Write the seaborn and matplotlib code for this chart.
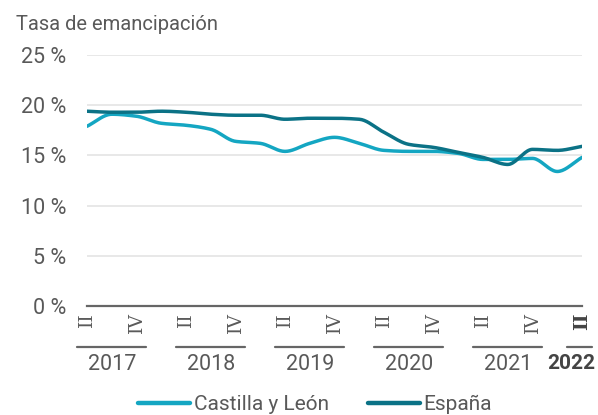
import numpy as np
import pandas as pd
import seaborn as sns
import matplotlib.pyplot as plt
from matplotlib.transforms import blended_transform_factory

# Datos trimestrales, 2017-II a 2022-II (tasa de emancipación, %)
trimestres = ['II', 'III', 'IV', 'I', 'II', 'III', 'IV', 'I', 'II', 'III', 'IV',
              'I', 'II', 'III', 'IV', 'I', 'II', 'III', 'IV', 'I', 'II']
anios = [2017, 2017, 2017, 2018, 2018, 2018, 2018, 2019, 2019, 2019, 2019,
         2020, 2020, 2020, 2020, 2021, 2021, 2021, 2021, 2022, 2022]
castilla_leon = [17.9, 19.1, 18.9, 18.2, 18.0, 17.6, 16.4, 16.2, 15.4, 16.2, 16.8,
                 16.2, 15.5, 15.4, 15.4, 15.2, 14.6, 14.6, 14.7, 13.4, 14.8]
espana = [19.4, 19.3, 19.3, 19.4, 19.3, 19.1, 19.0, 19.0, 18.6, 18.7, 18.7,
          18.6, 17.3, 16.1, 15.8, 15.3, 14.8, 14.1, 15.6, 15.5, 15.9]
series = ['Castilla y León', 'España']
colores = ['#14a6c2', '#0b7286']
y_ticks = [0, 5, 10, 15, 20, 25]

gris = '#595959'


# curva monotona (Fritsch-Carlson) solo para dibujar la linea suavizada
def monotona(x, y, n=20):
    x = np.asarray(x, float)
    y = np.asarray(y, float)
    h = np.diff(x)
    d = np.diff(y) / h
    m = np.zeros_like(y)
    m[0], m[-1] = d[0], d[-1]
    for k in range(1, len(y) - 1):
        if d[k - 1] * d[k] <= 0:
            m[k] = 0
        else:
            m[k] = 3 * (h[k - 1] + h[k]) / ((2 * h[k] + h[k - 1]) / d[k - 1] + (h[k] + 2 * h[k - 1]) / d[k])
    xs, ys = [], []
    for k in range(len(x) - 1):
        t = np.linspace(0, 1, n, endpoint=False)
        h00 = 2 * t**3 - 3 * t**2 + 1
        h10 = t**3 - 2 * t**2 + t
        h01 = -2 * t**3 + 3 * t**2
        h11 = t**3 - t**2
        xs.append(x[k] + t * h[k])
        ys.append(h00 * y[k] + h10 * h[k] * m[k] + h01 * y[k + 1] + h11 * h[k] * m[k + 1])
    xs.append([x[-1]])
    ys.append([y[-1]])
    return np.concatenate(xs), np.concatenate(ys)


idx = np.arange(len(trimestres))
partes = []
for nombre, valores in zip(series, [castilla_leon, espana]):
    xs, ys = monotona(idx, valores)
    partes.append(pd.DataFrame({'x': xs, 'valor': ys, 'serie': nombre}))
df = pd.concat(partes, ignore_index=True)

sns.set_style('white')
plt.rcParams['font.family'] = ['Roboto', 'DejaVu Sans']

fig = plt.figure(figsize=(5.98, 4.15), dpi=100)
ax = fig.add_axes([87 / 598, 1 - 306 / 415, (582 - 87) / 598, (306 - 55) / 415])

sns.lineplot(data=df, x='x', y='valor', hue='serie', hue_order=series,
             palette=colores, linewidth=2.5, ax=ax, legend=False, sort=False)

ax.set_xlim(0, len(trimestres) - 1)
ax.set_ylim(0, 25)
ax.set_yticks(y_ticks)
ax.set_yticklabels([f'{v} %' for v in y_ticks], color=gris, fontsize=15.5)
ax.tick_params(axis='y', length=0, pad=15)
for v in y_ticks[1:]:
    ax.axhline(v, color='#e6e6e6', linewidth=1.3, zorder=0)
for s in ['left', 'right', 'top']:
    ax.spines[s].set_visible(False)
ax.spines['bottom'].set_color('#666666')
ax.spines['bottom'].set_linewidth(1.6)
ax.set_xlabel('')
ax.set_ylabel('')

# ticks en II y IV
pos_ticks = [i for i, t in enumerate(trimestres) if t in ('II', 'IV')]
ax.set_xticks(pos_ticks)
ax.set_xticklabels([])
ax.tick_params(axis='x', direction='out', length=6, width=1.6, color='#666666')

trans = blended_transform_factory(ax.transData, ax.transAxes)
for i in pos_ticks:
    ultimo = i == len(trimestres) - 1
    ax.text(i, -0.026, trimestres[i], transform=trans, rotation=90, ha='center', va='top',
            fontsize=13.5, color='#5a5a5a' if not ultimo else '#444444',
            family='DejaVu Serif', fontweight='bold' if ultimo else 'normal')

# etiquetas de años con linea encima
for anio in sorted(set(anios)):
    pos = [i for i, a in enumerate(anios) if a == anio]
    if anio == 2022:
        x0, x1 = 19.4, 20.4
        ax.text(20.52, -0.19, str(anio), transform=trans, ha='right', va='top',
                fontsize=15, color='#444444', fontweight='bold')
    else:
        centro = pos[-1] - 1
        x0, x1 = centro - 1.4, centro + 1.4
        ax.text(centro, -0.19, str(anio), transform=trans, ha='center', va='top',
                fontsize=15.5, color=gris)
    ax.plot([x0, x1], [-0.163, -0.163], transform=trans, color='#666666',
            linewidth=1.6, clip_on=False)

fig.text(16 / 598, 1 - 25 / 415, 'Tasa de emancipación', ha='left', va='center',
         fontsize=14.5, color=gris)

handles = [plt.Line2D([], [], color=c, linewidth=3.2) for c in colores]
fig.legend(handles, series, loc='lower center', bbox_to_anchor=(0.527, -0.043), ncol=2,
           frameon=False, handlelength=2.5, handletextpad=0.15, columnspacing=1.9,
           labelcolor=gris, fontsize=15)

fig.savefig('out.png', dpi=100)
